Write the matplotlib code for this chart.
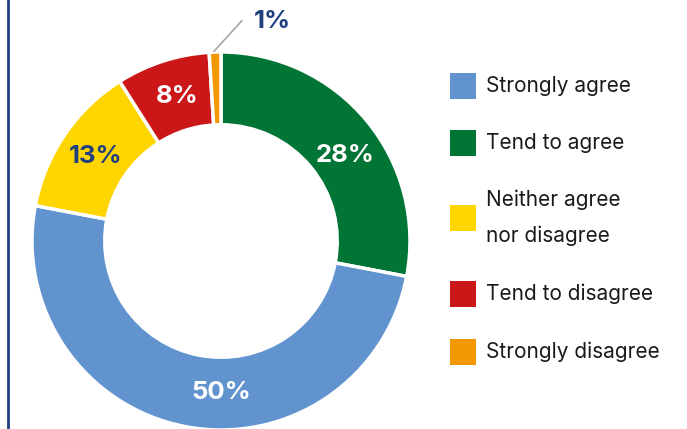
import numpy as np
import matplotlib
matplotlib.use("Agg")
import matplotlib.pyplot as plt
from matplotlib.patches import Rectangle

# Survey answers, in the order the ring is drawn (clockwise from 12 o'clock)
categories = ["Tend to agree", "Strongly agree", "Neither agree\nnor disagree",
              "Tend to disagree", "Strongly disagree"]
shares = [28, 50, 13, 8, 1]
colours = ["#007535", "#6193CE", "#FFD500", "#CC1719", "#F39800"]

# legend order
legend_order = ["Strongly agree", "Tend to agree", "Neither agree\nnor disagree",
                "Tend to disagree", "Strongly disagree"]

navy = "#1F3F7E"
label_colours = ["white", "white", navy, "white", navy]

plt.rcParams['font.family'] = ['Inter', 'DejaVu Sans']

W, H = 687, 429
fig = plt.figure(figsize=(W / 100, H / 100), dpi=100)

# left border line
fig.add_artist(plt.Line2D([7.5 / W, 7.5 / W], [0, 1], color=navy, lw=2))

# donut axes: centre at (221, 241) px, radius 189 px
cx, cy, r = 221, 241, 189
ax = fig.add_axes([(cx - r) / W, (H - cy - r) / H, 2 * r / W, 2 * r / H])
wedges, _ = ax.pie(shares, colors=colours, startangle=90, counterclock=False,
                   radius=1.0, wedgeprops=dict(width=0.385, edgecolor="white", linewidth=2.5))
ax.set_xlim(-1, 1)
ax.set_ylim(-1, 1)
ax.set_aspect("equal")

# label angles (deg) - mostly the wedge middle, nudged like the original
nudge = [-5, 11, 0, -1, 0]
for w, s, c, n in zip(wedges, shares, label_colours, nudge):
    mid = (w.theta1 + w.theta2) / 2 + n
    rad = np.deg2rad(mid)
    if s < 3:
        # small slice: label outside with leader line
        x0, y0 = np.cos(rad) * 1.0, np.sin(rad) * 1.0
        ax.plot([x0 - 0.005, 0.11], [y0 + 0.005, 1.165], color="#A6A6A6", lw=1.2, clip_on=False)
        ax.text(0.27, 1.16, f"{s}%", color=c, fontsize=18.5, fontweight="bold",
                ha="center", va="center", clip_on=False)
    else:
        rr = 0.80
        ax.text(rr * np.cos(rad), rr * np.sin(rad), f"{s}%", color=c, fontsize=18.5,
                fontweight="bold", ha="center", va="center")

# legend, drawn by hand so the spacing matches the original
legend_y = [86, 143, 218, 294, 352]   # px from top, centre of each entry
sq = 26
for name, yy in zip(legend_order, legend_y):
    col = colours[categories.index(name)]
    fig.add_artist(Rectangle((450 / W, (H - yy - sq / 2) / H), sq / W, sq / H,
                             facecolor=col, edgecolor="none", transform=fig.transFigure))
    fig.text(486 / W, (H - yy) / H, name, fontsize=15, color="#1A1A1A",
             ha="left", va="center", linespacing=1.95)

fig.savefig("out.png", dpi=100)
